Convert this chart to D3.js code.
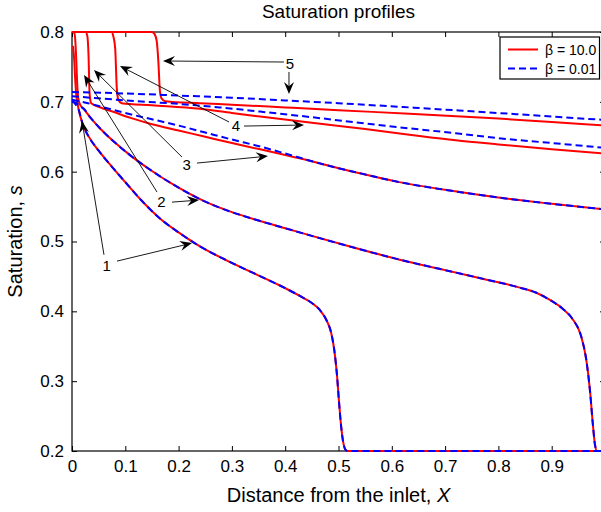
<!DOCTYPE html>
<html>
<head>
<meta charset="utf-8">
<script src="https://cdn.jsdelivr.net/npm/d3@7"></script>
<style>
  body { margin: 0; background: #fff; }
  svg { display: block; font-family: "Liberation Sans", Arial, sans-serif; }
</style>
</head>
<body>
<div id="chart"></div>
<script>
// ---- data: [X, s] ----
const xTicks = [0, 0.1, 0.2, 0.3, 0.4, 0.5, 0.6, 0.7, 0.8, 0.9];
const yTicks = [0.2, 0.3, 0.4, 0.5, 0.6, 0.7, 0.8];

// profiles 1 and 2: both beta values lie on top of each other after the inlet
const profile1 = [[0.0125,0.689],[0.020,0.668],[0.030,0.652],[0.050,0.630],[0.075,0.607],[0.100,0.585],
  [0.130,0.559],[0.165,0.533],[0.200,0.513],[0.240,0.493],[0.290,0.473],[0.340,0.455],[0.390,0.437],
  [0.430,0.421],[0.450,0.412],[0.465,0.402],[0.477,0.388],[0.486,0.370],[0.492,0.345],[0.497,0.310],
  [0.501,0.270],[0.505,0.235],[0.509,0.212],[0.513,0.202],[0.517,0.200],[1.0,0.200]];
const profile2 = [[0.022,0.690],[0.035,0.677],[0.055,0.660],[0.080,0.642],[0.110,0.623],[0.150,0.601],
  [0.200,0.577],[0.250,0.557],[0.300,0.542],[0.350,0.530],[0.400,0.519],[0.450,0.508],[0.530,0.491],
  [0.615,0.474],[0.700,0.459],[0.780,0.445],[0.840,0.434],[0.870,0.427],[0.895,0.417],[0.920,0.404],
  [0.940,0.388],[0.955,0.365],[0.965,0.330],[0.972,0.285],[0.977,0.240],[0.981,0.210],[0.985,0.200],
  [1.0,0.200]];
const profile3Tail = [[0.450,0.615],[0.500,0.605],[0.550,0.596],[0.614,0.585],[0.700,0.574],
  [0.800,0.563],[0.900,0.554],[1.0,0.546]];

const red1 = [[0.002,0.780],[0.004,0.762],[0.006,0.732],[0.008,0.710],[0.0105,0.697]].concat(profile1);
const blue1 = [[0.000,0.702],[0.006,0.697]].concat(profile1);
const red2 = [[0.000,0.800],[0.004,0.799],[0.006,0.790],[0.008,0.760],[0.010,0.722],[0.012,0.704],
  [0.016,0.695]].concat(profile2);
const blue2 = [[0.000,0.700],[0.008,0.698],[0.015,0.694]].concat(profile2);
const red3 = [[0.000,0.800],[0.026,0.800],[0.029,0.793],[0.031,0.767],[0.033,0.712],[0.036,0.698],
  [0.050,0.693],[0.080,0.685],[0.110,0.677],[0.150,0.668],[0.200,0.659],[0.250,0.650],[0.300,0.641],
  [0.353,0.632],[0.400,0.624]].concat(profile3Tail);
const blue3 = [[0.000,0.703],[0.030,0.698],[0.060,0.692],[0.100,0.684],[0.150,0.675],[0.200,0.666],
  [0.250,0.656],[0.300,0.646],[0.353,0.636],[0.400,0.626]].concat(profile3Tail);
const red4 = [[0.000,0.800],[0.074,0.800],[0.0775,0.794],[0.081,0.777],[0.084,0.720],[0.087,0.703],
  [0.093,0.698],[0.150,0.695],[0.240,0.690],[0.300,0.684],[0.353,0.679],[0.450,0.670],[0.550,0.661],
  [0.633,0.653],[0.720,0.645],[0.800,0.639],[0.900,0.632],[1.0,0.626]];
const blue4 = [[0.000,0.708],[0.050,0.705],[0.120,0.701],[0.200,0.697],[0.277,0.692],[0.353,0.686],
  [0.450,0.678],[0.550,0.669],[0.633,0.662],[0.720,0.655],[0.800,0.648],[0.900,0.641],[1.0,0.634]];
const red5 = [[0.000,0.800],[0.150,0.800],[0.155,0.797],[0.159,0.787],[0.162,0.758],[0.165,0.715],
  [0.168,0.705],[0.175,0.701],[0.240,0.698],[0.300,0.696],[0.400,0.692],[0.500,0.688],[0.633,0.683],
  [0.800,0.676],[0.900,0.671],[1.0,0.666]];
const blue5 = [[0.000,0.714],[0.100,0.712],[0.200,0.709],[0.300,0.706],[0.400,0.702],[0.500,0.698],
  [0.633,0.692],[0.800,0.684],[0.900,0.679],[1.0,0.674]];

const redSeries = [red1, red2, red3, red4, red5];
const blueSeries = [blue1, blue2, blue3, blue4, blue5];

// annotation labels and arrows, in data units: label, [from, to]
const labelText = ["1", "2", "3", "4", "5"];
const labelPos = [[0.065,0.466],[0.168,0.557],[0.215,0.6095],[0.3077,0.6653],[0.409,0.7552]];
const arrows = [
  [[0.060,0.481],[0.0188,0.6725]],
  [[0.0844,0.4719],[0.2251,0.4977]],
  [[0.1595,0.5708],[0.0225,0.7384]],
  [[0.1876,0.5564],[0.2383,0.5593]],
  [[0.2064,0.6209],[0.0413,0.7456]],
  [[0.2345,0.6123],[0.3677,0.6223]],
  [[0.2946,0.6711],[0.0901,0.7513]],
  [[0.3227,0.6653],[0.4353,0.6668]],
  [[0.3977,0.7570],[0.1707,0.7585]],
  [[0.4071,0.7427],[0.4071,0.7112]]
];

const legendLabels = ["β = 10.0", "β = 0.01"];

// ---- layout ----
const width = 601, height = 512;
const margin = { left: 72, top: 32, plotRight: 605, bottom: 451 };

const svg = d3.select("#chart").append("svg")
    .attr("width", width)
    .attr("height", height);
svg.append("rect").attr("width", width).attr("height", height).attr("fill", "#fff");

const x = d3.scaleLinear().domain([0, 1]).range([margin.left, margin.plotRight]);
const y = d3.scaleLinear().domain([0.2, 0.8]).range([margin.bottom, margin.top]);

const fmtX = d => d === 0 ? "0" : d3.format(".1f")(d);

// axes with inward ticks (matlab style)
const axisG = svg.append("g").attr("class", "axes");
axisG.append("g")
    .attr("transform", `translate(0,${margin.bottom})`)
    .call(d3.axisBottom(x).tickValues(xTicks).tickFormat(fmtX).tickSizeInner(-5).tickSizeOuter(0).tickPadding(9));
axisG.append("g")
    .attr("transform", `translate(${margin.left},0)`)
    .call(d3.axisLeft(y).tickValues(yTicks).tickFormat(d3.format(".1f")).tickSizeInner(-5).tickSizeOuter(0).tickPadding(8));
axisG.append("g")
    .attr("transform", `translate(0,${margin.top})`)
    .call(d3.axisTop(x).tickValues(xTicks).tickFormat("").tickSizeInner(-5).tickSizeOuter(0));
axisG.append("g")
    .attr("transform", `translate(${margin.plotRight},0)`)
    .call(d3.axisRight(y).tickValues(yTicks).tickFormat("").tickSizeInner(-5).tickSizeOuter(0));

axisG.selectAll(".domain").remove();
axisG.selectAll(".tick line").attr("stroke", "#000").attr("stroke-width", 1);
axisG.selectAll(".tick text")
    .attr("fill", "#000")
    .style("font-size", "17px")
    .style("font-family", "'Liberation Sans', Arial, sans-serif");

// box
svg.append("rect")
    .attr("x", margin.left)
    .attr("y", margin.top)
    .attr("width", margin.plotRight - margin.left)
    .attr("height", margin.bottom - margin.top)
    .attr("fill", "none")
    .attr("stroke", "#000")
    .attr("stroke-width", 1.2);

// ---- curves ----
const line = d3.line()
    .x(d => x(d[0]))
    .y(d => y(d[1]))
    .curve(d3.curveMonotoneX);

svg.selectAll(".red-line")
    .data(redSeries)
    .enter().append("path")
    .attr("class", "red-line")
    .attr("d", line)
    .attr("fill", "none")
    .attr("stroke", "#ff0000")
    .attr("stroke-width", 2);

svg.selectAll(".blue-line")
    .data(blueSeries)
    .enter().append("path")
    .attr("class", "blue-line")
    .attr("d", line)
    .attr("fill", "none")
    .attr("stroke", "#0000ff")
    .attr("stroke-width", 2)
    .attr("stroke-dasharray", "7,4");

// ---- annotations ----
const annot = svg.append("g").attr("class", "annotations");

arrows.forEach(([from, to]) => {
    const x1 = x(from[0]), y1 = y(from[1]);
    const x2 = x(to[0]), y2 = y(to[1]);
    const ang = Math.atan2(y2 - y1, x2 - x1) * 180 / Math.PI;
    const headLen = 12;
    // stop the shaft inside the head
    const len = Math.hypot(x2 - x1, y2 - y1);
    const ux = (x2 - x1) / len, uy = (y2 - y1) / len;
    annot.append("line")
        .attr("x1", x1).attr("y1", y1)
        .attr("x2", x2 - ux * headLen * 0.6).attr("y2", y2 - uy * headLen * 0.6)
        .attr("stroke", "#000")
        .attr("stroke-width", 0.9);
    annot.append("path")
        .attr("d", `M0,0 L${-headLen},${-5} L${-headLen * 0.65},0 L${-headLen},5 Z`)
        .attr("transform", `translate(${x2},${y2}) rotate(${ang})`)
        .attr("fill", "#000");
});

annot.selectAll(".num-label")
    .data(labelText)
    .enter().append("text")
    .attr("class", "num-label")
    .attr("x", (d, i) => x(labelPos[i][0]))
    .attr("y", (d, i) => y(labelPos[i][1]))
    .attr("dy", "0.36em")
    .attr("text-anchor", "middle")
    .style("font-size", "15px")
    .text(d => d);

// ---- legend ----
const legend = svg.append("g").attr("transform", "translate(500,37)");
legend.append("rect")
    .attr("width", 99.5).attr("height", 42)
    .attr("fill", "#fff")
    .attr("stroke", "#000")
    .attr("stroke-width", 1.2);

const legendStyles = [
    { color: "#ff0000", dash: null },
    { color: "#0000ff", dash: "7,4" }
];
legendLabels.forEach((label, i) => {
    const ly = 12.5 + i * 19;
    legend.append("line")
        .attr("x1", 8).attr("x2", 38)
        .attr("y1", ly).attr("y2", ly)
        .attr("stroke", legendStyles[i].color)
        .attr("stroke-width", 2)
        .attr("stroke-dasharray", legendStyles[i].dash);
    legend.append("text")
        .attr("x", 45).attr("y", ly)
        .attr("dy", "0.36em")
        .style("font-size", "14px")
        .text(label);
});

// ---- titles ----
svg.append("text")
    .attr("x", (margin.left + margin.plotRight) / 2)
    .attr("y", 18)
    .attr("text-anchor", "middle")
    .style("font-size", "19px")
    .text("Saturation profiles");

const xLabel = svg.append("text")
    .attr("x", (margin.left + margin.plotRight) / 2)
    .attr("y", 502)
    .attr("text-anchor", "middle")
    .style("font-size", "20px");
xLabel.append("tspan").text("Distance from the inlet, ");
xLabel.append("tspan").style("font-style", "italic").text("X");

const yLabel = svg.append("text")
    .attr("transform", `translate(22,${(margin.top + margin.bottom) / 2}) rotate(-90)`)
    .attr("text-anchor", "middle")
    .style("font-size", "20px");
yLabel.append("tspan").text("Saturation, ");
yLabel.append("tspan").style("font-style", "italic").text("s");
</script>
</body>
</html>
